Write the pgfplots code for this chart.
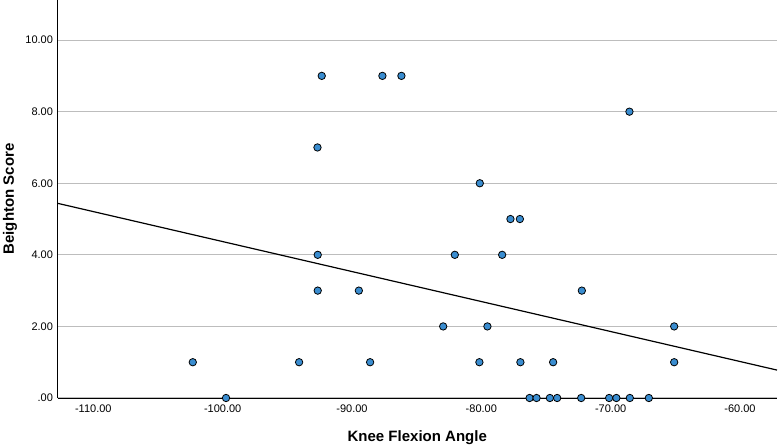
\documentclass[border=0pt]{standalone}
\usepackage{fontspec}
\setmainfont{Liberation Sans}
\usepackage{pgfplots}
\pgfplotsset{compat=1.18}
\definecolor{ptfill}{HTML}{3A8DD0}
\definecolor{gridgray}{HTML}{BDBDBD}
\begin{document}
\begin{tikzpicture}[x=1pt,y=1pt]
\begin{axis}[name=ax,
  scale only axis, width=719.5pt, height=398pt,
  xmin=-112.77, xmax=-57.14, ymin=0, ymax=11.12,
  axis x line*=bottom, axis y line*=left,
  axis line style={black, line width=0.9pt},
  xtick={-110,-100,-90,-80,-70,-60},
  xticklabels={-110.00,-100.00,-90.00,-80.00,-70.00,-60.00},
  ytick={0,2,4,6,8,10},
  yticklabels={.00,2.00,4.00,6.00,8.00,10.00},
  major tick length=0pt,
  tick label style={font=\fontsize{11}{12}\selectfont, text=black},
  xticklabel style={yshift=-3pt},
  yticklabel style={xshift=-1pt},
  ymajorgrids, grid style={gridgray, line width=1pt},
  xlabel={\textbf{Knee Flexion Angle}},
  ylabel={\textbf{Beighton Score}},
  label style={font=\fontsize{15}{17}\selectfont},
  xlabel style={at={(axis description cs:0.5,-0.1005)}, anchor=center},
  ylabel style={at={(axis description cs:-0.066,0.5)}, anchor=center, rotate=0},
  clip=false,
]
\addplot[black, line width=1.2pt] coordinates {(-112.77,5.44) (-57.14,0.78)};
\addplot[only marks, mark=*, mark size=3.7pt, mark options={fill=ptfill, draw=black, line width=0.8pt}] coordinates {
(-102.31,1) (-99.74,0) (-94.09,1) (-92.65,4) (-92.65,3) (-89.47,3) (-88.60,1)
(-92.34,9) (-87.65,9) (-86.18,9) (-92.67,7)
(-68.55,8) (-80.12,6) (-77.75,5) (-77.02,5)
(-82.05,4) (-78.39,4) (-72.23,3)
(-82.95,2) (-79.53,2) (-65.09,2)
(-80.15,1) (-76.98,1) (-74.45,1) (-65.09,1)
(-76.27,0) (-75.73,0) (-74.70,0) (-74.14,0) (-72.28,0) (-70.12,0) (-69.56,0) (-68.52,0) (-67.05,0)
};
\end{axis}
\pgfresetboundingbox
\path[use as bounding box] ([xshift=-57.5pt,yshift=-48pt]ax.south west) rectangle ([xshift=1pt]ax.north east);
\end{tikzpicture}
\end{document}
